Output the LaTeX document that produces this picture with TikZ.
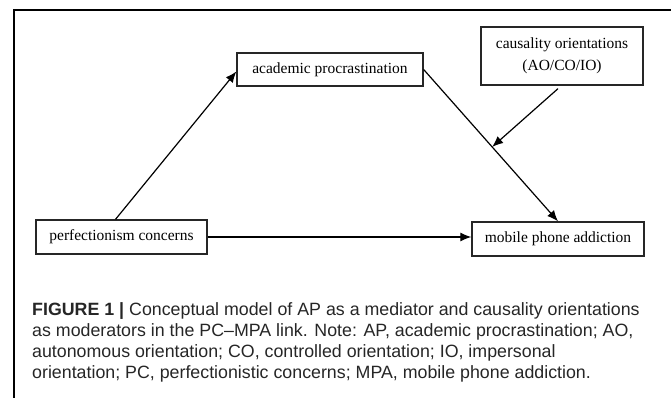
\documentclass[tikz,border=0pt]{standalone}
\usepackage{fontspec}
\setmainfont{Liberation Serif}
\newfontfamily\legendafont{Liberation Sans}
\usetikzlibrary{arrows.meta,positioning,calc}

\begin{document}
\begin{tikzpicture}[
        x=1pt, y=-1pt,
        caixa/.style={
            rectangle,
            draw=black!85,
            line width=1.3pt,
            inner sep=0pt,
            align=center,
            font=\fontsize{15.5}{22}\selectfont
        },
        seta/.style={-{Latex[length=11pt,width=9pt]}, line width=1.2pt}
    ]

    \useasboundingbox (0,0) rectangle (671,398);
    \draw[line width=1.2pt] (14,398) -- (14,10) -- (671,10);

    \node[caixa, minimum width=171pt, minimum height=34pt] (pc) at (121.5,237) {perfectionism concerns};
    \node[caixa, minimum width=172pt, minimum height=34pt] (mpa) at (558,239) {mobile phone addiction};
    \node[caixa, minimum width=186pt, minimum height=33pt] (ap) at (330,69.5) {academic procrastination};
    \node[caixa, minimum width=162pt, minimum height=58pt] (co) at (562,56) {causality orientations \\ (AO/CO/IO)};

    \coordinate (meio) at ($(ap.east)!0.51!(mpa.north)$);

    \draw[seta] ([xshift=-6pt]pc.north) -- ([yshift=-2pt]ap.west);
    \draw[seta] (ap.east) -- (mpa.north);
    \draw[seta] (pc.east) -- (pc.east -| mpa.west);
    \draw[seta] ([xshift=-4pt,yshift=-3pt]co.south) -- (meio);

    % legenda: a ancora base fica na ultima linha
    \node[anchor=base west, align=left, inner sep=0pt, text=black!85,
          font=\legendafont\fontsize{17.8}{21}\selectfont] (legenda) at (32,378)
        {\textbf{FIGURE 1 |} Conceptual model of AP as a mediator and causality orientations\\
         as moderators in the PC\textendash MPA link. Note: AP, academic procrastination; AO,\\
         autonomous orientation; CO, controlled orientation; IO, impersonal\\
         orientation; PC, perfectionistic concerns; MPA, mobile phone addiction.};

\end{tikzpicture}
\end{document}
